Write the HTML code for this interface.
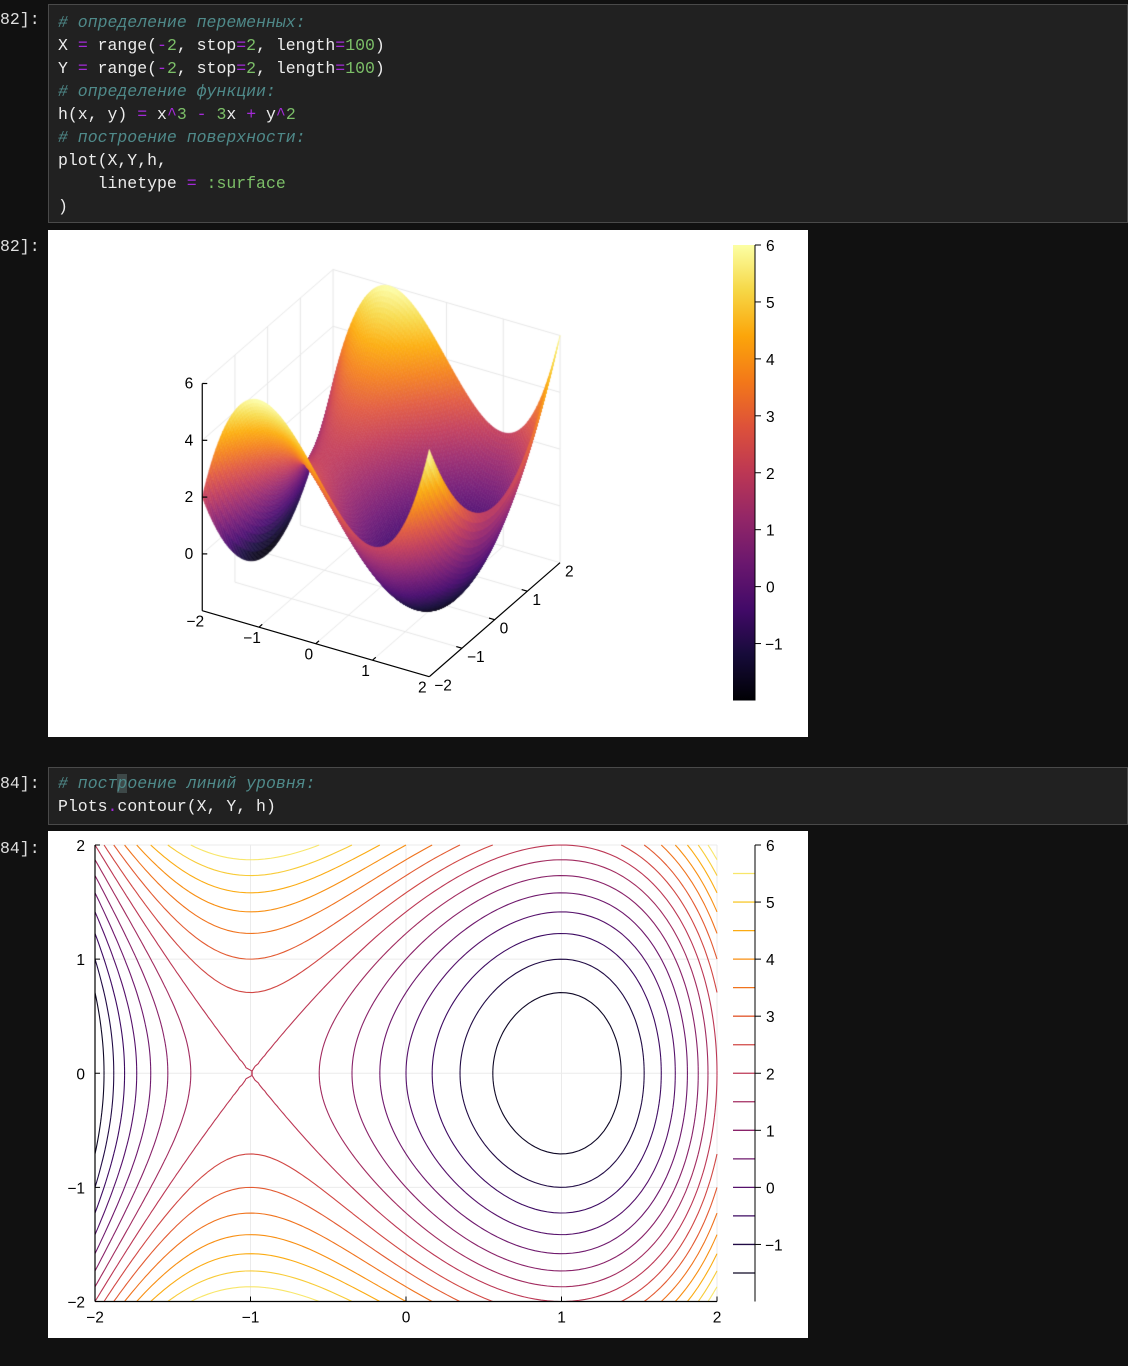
<!DOCTYPE html>
<html><head><meta charset="utf-8">
<style>
body{margin:0;background:#111111;width:1128px;height:1366px;position:relative;overflow:hidden;font-family:"Liberation Sans",sans-serif;}
.prompt{position:absolute;left:0;color:#e0e0e0;font:16.5px "Liberation Mono",monospace;}
.cell{position:absolute;left:48px;right:0;background:#212121;border:1px solid #4a4a4a;box-sizing:border-box;}
.code{position:absolute;left:9px;font:16.5px/23px "Liberation Mono",monospace;color:#ececec;white-space:pre;margin:0}
.c{color:#4f8a8a;font-style:italic}.o{color:#a42ad8}.n{color:#7cbf68}
.out{position:absolute;left:48px;width:760px;height:507px;background:#fff;}
svg text{font-family:"Liberation Sans",sans-serif;font-size:15.5px;fill:#000}
</style></head><body>
<div class="prompt" style="top:10px">82]:</div>
<div class="cell" style="top:4px;height:219px">
<pre class="code" style="top:6px"><span class="c"># определение переменных:</span>
X <span class="o">=</span> range(<span class="o">-</span><span class="n">2</span>, stop<span class="o">=</span><span class="n">2</span>, length<span class="o">=</span><span class="n">100</span>)
Y <span class="o">=</span> range(<span class="o">-</span><span class="n">2</span>, stop<span class="o">=</span><span class="n">2</span>, length<span class="o">=</span><span class="n">100</span>)
<span class="c"># определение функции:</span>
h(x, y) <span class="o">=</span> x<span class="o">^</span><span class="n">3</span> <span class="o">-</span> <span class="n">3</span>x <span class="o">+</span> y<span class="o">^</span><span class="n">2</span>
<span class="c"># построение поверхности:</span>
plot(X,Y,h,
    linetype <span class="o">=</span> <span class="n">:surface</span>
)</pre></div>
<div class="prompt" style="top:237px">82]:</div>
<div class="out" style="top:230px">
<canvas id="surf" width="760" height="507" style="position:absolute;left:0;top:0"></canvas>
<svg id="s3" width="760" height="507" style="position:absolute;left:0;top:0"></svg>
</div>
<div class="prompt" style="top:774px">84]:</div>
<div class="cell" style="top:767px;height:58px">
<pre class="code" style="top:4px"><span class="c"># пост<span style="background:#3d4848">р</span>оение линий уровня:</span>
Plots<span class="o">.</span>contour(X, Y, h)</pre></div>
<div class="prompt" style="top:839px">84]:</div>
<div class="out" style="top:831px">
<svg id="c2" width="760" height="507" style="position:absolute;left:0;top:0"></svg>
</div>
<script>
const xRange=[-2,2];
const yRange=[-2,2];
const zRange=[-2,6];
const gridN=[100];
const contourLevels=[-1.5,-1,-0.5,0,0.5,1,1.5,2,2.5,3,3.5,4,4.5,5,5.5];
const xTicks=[-2,-1,0,1,2];
const yTicks=[-2,-1,0,1,2];
const zTicks=[-2,0,2,4,6];
const cbTicks=[-1,0,1,2,3,4,5,6];
const infernoStops=["#000004","#160b39","#420a68","#6a176e","#932667","#bc3754","#dd513a","#f37819","#fca50a","#f6d746","#fcffa4"];
function h(x,y){return x*x*x-3*x+y*y;}
function hex(c){return [1,3,5].map(i=>parseInt(c.substr(i,2),16));}
const stopsRGB=infernoStops.map(hex);
function cmapRGB(t){t=Math.max(0,Math.min(1,t));const f=t*10,i=Math.min(9,Math.floor(f)),r=f-i;const a=stopsRGB[i],b=stopsRGB[i+1];return a.map((v,k)=>v+(b[k]-v)*r);}
function cmap(t){return `rgb(${cmapRGB(t).map(Math.round).join(',')})`;}
function zc(z){return cmap((z-zRange[0])/(zRange[1]-zRange[0]));}
function zcSoft(z){const c=cmapRGB((z-zRange[0])/(zRange[1]-zRange[0]));const m=0.13;return `rgb(${c.map(v=>Math.round(v+(255-v)*m*(v/255+0.3))).join(',')})`;}
const NS='http://www.w3.org/2000/svg';
function el(svg,tag,attrs){const e=document.createElementNS(NS,tag);for(const k in attrs)e.setAttribute(k,attrs[k]);svg.appendChild(e);return e;}
function fmt(v){return v<0?'\u2212'+(-v):''+v;}
const N=gridN[0];
const xs=[],ys=[];for(let i=0;i<N;i++){xs.push(xRange[0]+(xRange[1]-xRange[0])*i/(N-1));ys.push(yRange[0]+(yRange[1]-yRange[0])*i/(N-1));}
const Z=ys.map(y=>xs.map(x=>h(x,y)));

// ---------- 3D surface ----------
const O={x:381.15-48,y:529.9-230};
const EX=[56.75,16.5],EY=[32.7,-28.5],EZ=[0,-28.4];
function P(x,y,z){return [O.x+x*EX[0]+y*EY[0]+z*EZ[0],O.y+x*EX[1]+y*EY[1]+z*EZ[1]];}
const s3=document.getElementById('s3');
const ctx=document.getElementById('surf').getContext('2d');
function cline(a,b,col,w){ctx.strokeStyle=col;ctx.lineWidth=w;ctx.beginPath();ctx.moveTo(a[0],a[1]);ctx.lineTo(b[0],b[1]);ctx.stroke();}
const gcol='#e6e6e6';
[-1,0,1,2].forEach(t=>{cline(P(t,-2,-2),P(t,2,-2),gcol,1);cline(P(-2,t,-2),P(2,t,-2),gcol,1);});
[-1,0,1,2].forEach(t=>{cline(P(t,2,-2),P(t,2,6),gcol,1);cline(P(-2,t,-2),P(-2,t,6),gcol,1);});
[0,2,4,6].forEach(z=>{cline(P(-2,-2,z),P(-2,2,z),gcol,1);cline(P(-2,2,z),P(2,2,z),gcol,1);});
const quads=[];
for(let j=0;j<N-1;j++)for(let i=0;i<N-1;i++){
 const cx=(xs[i]+xs[i+1])/2,cy=(ys[j]+ys[j+1])/2;
 quads.push([i,j,EX[1]*cx+EY[1]*cy]);}
quads.sort((a,b)=>a[2]-b[2]);
quads.forEach(([i,j])=>{
 const p=[P(xs[i],ys[j],Z[j][i]),P(xs[i+1],ys[j],Z[j][i+1]),P(xs[i+1],ys[j+1],Z[j+1][i+1]),P(xs[i],ys[j+1],Z[j+1][i])];
 const c=zcSoft((Z[j][i]+Z[j][i+1]+Z[j+1][i+1]+Z[j+1][i])/4);
 ctx.fillStyle=c;ctx.strokeStyle=c;ctx.lineWidth=0.6;
 ctx.beginPath();ctx.moveTo(p[0][0],p[0][1]);for(let k=1;k<4;k++)ctx.lineTo(p[k][0],p[k][1]);ctx.closePath();ctx.fill();ctx.stroke();});
function sl(a,b,name){const e=el(s3,'line',{x1:a[0],y1:a[1],x2:b[0],y2:b[1],stroke:'#000','stroke-width':1.2});}
sl(P(-2,-2,-2),P(2,-2,-2),'x-axis-line');
sl(P(2,-2,-2),P(2,2,-2),'y-axis-line');
sl(P(-2,-2,-2),P(-2,-2,6),'z-axis-line');
xTicks.forEach(t=>{const a=P(t,-2,-2);if(t>-2&&t<2)sl(a,[a[0]+EY[0]*0.1,a[1]+EY[1]*0.1],'x-tick');
 const e=el(s3,'text',{x:a[0]-7,y:a[1]+16,'text-anchor':'middle'});e.textContent=fmt(t);});
yTicks.forEach(t=>{const a=P(2,t,-2);if(t>-2&&t<2)sl(a,[a[0]-EX[0]*0.1,a[1]-EX[1]*0.1],'y-tick');
 const e=el(s3,'text',{x:a[0]+5,y:a[1]+14,'text-anchor':'start'});e.textContent=fmt(t);});
zTicks.forEach(t=>{const a=P(-2,-2,t);if(t>-2)sl(a,[a[0]+5,a[1]],'z-tick');
 if(t===-2)return;const e=el(s3,'text',{x:a[0]-9,y:a[1]+5,'text-anchor':'end'});e.textContent=fmt(t);});
function colorbar(svg,top,bot,gradient){
 const x0=685,x1=707;
 const cy=v=>bot-(v-zRange[0])/(zRange[1]-zRange[0])*(bot-top);
 if(gradient){const defs=el(svg,'defs',{});const g=el(defs,'linearGradient',{id:'cbg',x1:0,y1:1,x2:0,y2:0});
  infernoStops.forEach((c,k)=>el(g,'stop',{offset:k/10,'stop-color':c}));
  const r=el(svg,'rect',{x:x0,y:top,width:x1-x0,height:bot-top,fill:'url(#cbg)'});}
 else{contourLevels.forEach(v=>{const l=el(svg,'line',{x1:x0,x2:x1,y1:cy(v),y2:cy(v),stroke:zc(v),'stroke-width':1.3});});}
 const a=el(svg,'line',{x1:x1,x2:x1,y1:top,y2:bot,stroke:'#000','stroke-width':1});
 cbTicks.forEach(v=>{const y=cy(v);el(svg,'line',{x1:x1,x2:x1+6,y1:y,y2:y,stroke:'#000','stroke-width':1});
  const t=el(svg,'text',{x:x1+(v<0?10:11),y:y+6});t.textContent=fmt(v);});
}
colorbar(s3,245-230,700.5-230,true);

// ---------- contour ----------
const c2=document.getElementById('c2');
const L=95-48,R=717-48,T=845-831,B=1301.5-831;
const sx=x=>L+(x-xRange[0])/(xRange[1]-xRange[0])*(R-L);
const sy=y=>B-(y-yRange[0])/(yRange[1]-yRange[0])*(B-T);
[-1,0,1].forEach(t=>{el(c2,'line',{x1:sx(t),x2:sx(t),y1:T,y2:B,stroke:'#ebebeb','stroke-width':1});el(c2,'line',{x1:L,x2:R,y1:sy(t),y2:sy(t),stroke:'#ebebeb','stroke-width':1});});
el(c2,'line',{x1:R,x2:R,y1:T,y2:B,stroke:'#ebebeb'});el(c2,'line',{x1:L,x2:R,y1:T,y2:T,stroke:'#ebebeb'});
contourLevels.forEach(lv=>{
 let d='';
 for(let j=0;j<N-1;j++)for(let i=0;i<N-1;i++){
  const v=[Z[j][i],Z[j][i+1],Z[j+1][i+1],Z[j+1][i]];
  const px=[xs[i],xs[i+1],xs[i+1],xs[i]],py=[ys[j],ys[j],ys[j+1],ys[j+1]];
  const pts=[];
  for(let k=0;k<4;k++){const a=v[k],b=v[(k+1)%4];if((a<lv)!==(b<lv)){const t=(lv-a)/(b-a);const k2=(k+1)%4;pts.push([sx(px[k]+(px[k2]-px[k])*t),sy(py[k]+(py[k2]-py[k])*t)]);}}
  for(let m=0;m+1<pts.length;m+=2)d+=`M${pts[m][0].toFixed(2)},${pts[m][1].toFixed(2)}L${pts[m+1][0].toFixed(2)},${pts[m+1][1].toFixed(2)}`;
 }
 const p=el(c2,'path',{d:d,stroke:zc(lv),'stroke-width':1.1,fill:'none'});
 
 
});
el(c2,'line',{x1:L,x2:L,y1:T,y2:B,stroke:'#000','stroke-width':1.2});
el(c2,'line',{x1:L,x2:R,y1:B,y2:B,stroke:'#000','stroke-width':1.2});
xTicks.forEach(t=>{el(c2,'line',{x1:sx(t),x2:sx(t),y1:B,y2:B-5,stroke:'#000'});const e=el(c2,'text',{x:sx(t),y:B+21,'text-anchor':'middle'});e.textContent=fmt(t);});
yTicks.forEach(t=>{el(c2,'line',{x1:L,x2:L+5,y1:sy(t),y2:sy(t),stroke:'#000'});const e=el(c2,'text',{x:L-10,y:sy(t)+6,'text-anchor':'end'});e.textContent=fmt(t);});
colorbar(c2,845-831,1301.5-831,false);
</script>
</body></html>
